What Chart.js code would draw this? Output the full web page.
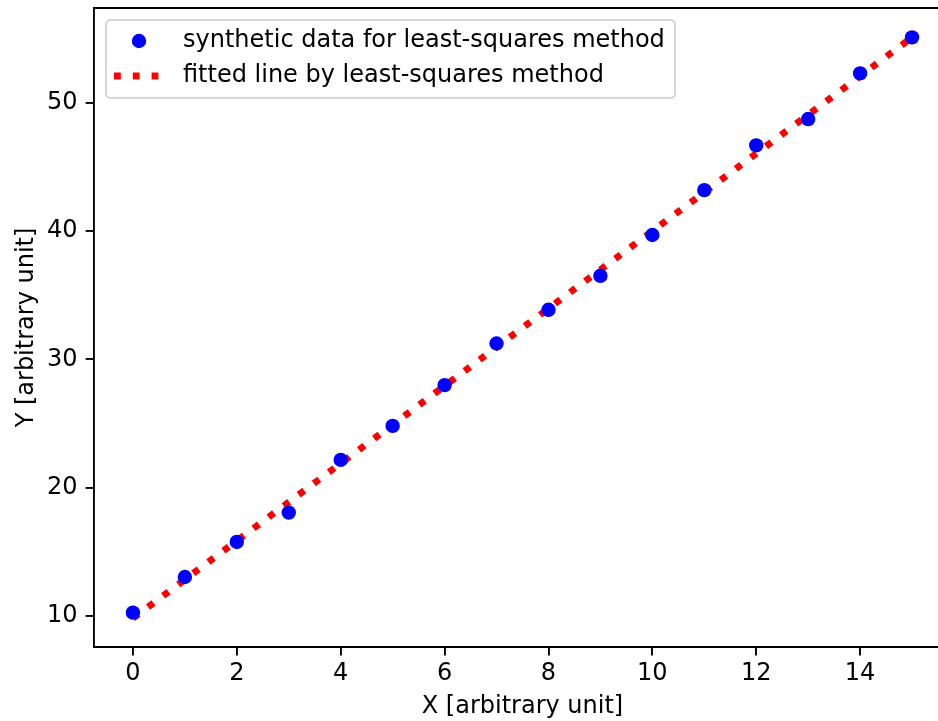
<!DOCTYPE html>
<html>
<head>
<meta charset="utf-8">
<script src="https://cdn.jsdelivr.net/npm/chart.js@4/dist/chart.umd.min.js"></script>
<style>
html,body{margin:0;padding:0;overflow:hidden;background:#fff;width:938px;height:721px;}
canvas{display:block;}
</style>
</head>
<body>
<canvas id="c" width="960" height="721"></canvas>
<script>
// ---- data ----
const xValues = [0, 1, 2, 3, 4, 5, 6, 7, 8, 9, 10, 11, 12, 13, 14, 15];
const yValues = [10.26, 13.04, 15.77, 18.06, 22.17, 24.82, 28.00, 31.24, 33.87, 36.52, 39.70, 43.20, 46.69, 48.74, 52.30, 55.11];
const fitX = [0, 15];
const fitY = [9.82, 55.11];
const xTicks = [0, 2, 4, 6, 8, 10, 12, 14];
const yTicks = [10, 20, 30, 40, 50];
const seriesLabels = ['synthetic data for least-squares method', 'fitted line by least-squares method'];
const xTitle = 'X [arbitrary unit]';
const yTitle = 'Y [arbitrary unit]';

const FONT = 'DejaVu Sans';
const FS = 24;

const framePlugin = {
  id: 'mplFrame',
  afterDraw(chart) {
    const ctx = chart.ctx;
    const a = chart.chartArea;
    ctx.save();
    // top and right spines
    ctx.strokeStyle = '#000';
    ctx.lineWidth = 1.9;
    ctx.beginPath();
    ctx.moveTo(a.left - 0.95, a.top);
    ctx.lineTo(a.right + 0.95, a.top);
    ctx.moveTo(a.right, a.top);
    ctx.lineTo(a.right, a.bottom);
    ctx.stroke();

    // legend frame
    const x0 = 106, y0 = 20, w = 569, h = 78, r = 5;
    ctx.beginPath();
    ctx.moveTo(x0 + r, y0);
    ctx.lineTo(x0 + w - r, y0);
    ctx.quadraticCurveTo(x0 + w, y0, x0 + w, y0 + r);
    ctx.lineTo(x0 + w, y0 + h - r);
    ctx.quadraticCurveTo(x0 + w, y0 + h, x0 + w - r, y0 + h);
    ctx.lineTo(x0 + r, y0 + h);
    ctx.quadraticCurveTo(x0, y0 + h, x0, y0 + h - r);
    ctx.lineTo(x0, y0 + r);
    ctx.quadraticCurveTo(x0, y0, x0 + r, y0);
    ctx.closePath();
    ctx.fillStyle = 'rgba(255,255,255,0.8)';
    ctx.fill();
    ctx.strokeStyle = '#cccccc';
    ctx.lineWidth = 1.6;
    ctx.stroke();
    // marker
    ctx.fillStyle = '#0000ff';
    ctx.beginPath();
    ctx.arc(139, 41, 7.2, 0, Math.PI * 2);
    ctx.fill();
    // dotted line
    ctx.strokeStyle = '#ff0000';
    ctx.lineWidth = 6.8;
    ctx.lineCap = 'butt';
    ctx.setLineDash([6.8, 12]);
    ctx.beginPath();
    ctx.moveTo(114, 76);
    ctx.lineTo(164, 76);
    ctx.stroke();
    ctx.setLineDash([]);
    // text
    ctx.fillStyle = '#000';
    ctx.font = FS + 'px "' + FONT + '"';
    ctx.textBaseline = 'middle';
    ctx.textAlign = 'left';
    ctx.fillText(seriesLabels[0], 183, 41);
    ctx.fillText(seriesLabels[1], 183, 76);
    ctx.restore();
  }
};

const scatterData = xValues.map((x, i) => ({ x: x, y: yValues[i] }));
const fitData = fitX.map((x, i) => ({ x: x, y: fitY[i] }));

new Chart(document.getElementById('c'), {
  type: 'scatter',
  data: {
    datasets: [
      {
        label: seriesLabels[0],
        data: scatterData,
        backgroundColor: '#0000ff',
        borderColor: '#0000ff',
        pointRadius: 7.2,
        pointBorderWidth: 0,
        order: 0
      },
      {
        type: 'line',
        label: seriesLabels[1],
        data: fitData,
        borderColor: '#ff0000',
        borderWidth: 6.8,
        borderDash: [6.8, 12],
        borderCapStyle: 'butt',
        pointRadius: 0,
        fill: false,
        tension: 0,
        order: 1
      }
    ]
  },
  options: {
    responsive: false,
    devicePixelRatio: 1,
    animation: false,
    layout: { padding: { left: 12, top: 8, right: 9, bottom: 0 } },
    plugins: { legend: { display: false }, tooltip: { enabled: false } },
    scales: {
      x: {
        type: 'linear',
        min: -0.75,
        max: 15.75,
        afterBuildTicks(scale) { scale.ticks = xTicks.map(v => ({ value: v })); },
        afterFit(scale) { scale.height = 74; scale.paddingLeft = 0; scale.paddingRight = 0; },
        grid: { display: true, drawOnChartArea: false, drawTicks: true, tickLength: 8.4, color: '#000', lineWidth: 1.9 },
        border: { display: true, color: '#000', width: 1.9 },
        ticks: { color: '#000', font: { family: FONT, size: FS }, padding: 4, maxRotation: 0, autoSkip: false },
        title: { display: true, text: xTitle, color: '#000', font: { family: FONT, size: FS }, padding: { top: 0, bottom: 0 } }
      },
      y: {
        type: 'linear',
        min: 7.58,
        max: 57.4,
        afterBuildTicks(scale) { scale.ticks = yTicks.map(v => ({ value: v })); },
        afterFit(scale) { scale.width = 82; scale.paddingTop = 0; scale.paddingBottom = 0; },
        grid: { display: true, drawOnChartArea: false, drawTicks: true, tickLength: 8.4, color: '#000', lineWidth: 1.9 },
        border: { display: true, color: '#000', width: 1.9 },
        ticks: { color: '#000', font: { family: FONT, size: FS }, padding: 8 },
        title: { display: true, text: yTitle, color: '#000', font: { family: FONT, size: FS }, padding: { top: 0, bottom: 4 } }
      }
    }
  },
  plugins: [framePlugin]
});
</script>
</body>
</html>
